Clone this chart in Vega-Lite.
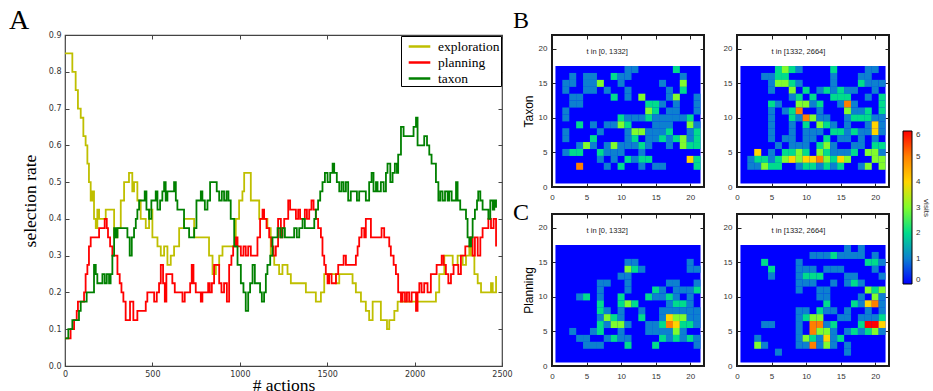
{
"$schema": "https://vega.github.io/schema/vega-lite/v6.json",
"padding": {"left": 8, "top": 6, "right": 0, "bottom": 0},
"background": "white",
"config": {"axis": {"grid": false, "domain": false, "labelFlush": false, "labelOverlap": false}, "view": {"stroke": "#222", "strokeWidth": 1.5}},
"datasets": {
"lines": [
{"s":"exploration","x":0,"y":0.85},{"s":"exploration","x":19,"y":0.85},{"s":"exploration","x":42,"y":0.8},{"s":"exploration","x":61,"y":0.75},{"s":"exploration","x":74,"y":0.7},{"s":"exploration","x":90,"y":0.675},{"s":"exploration","x":105,"y":0.625},{"s":"exploration","x":118,"y":0.6},{"s":"exploration","x":128,"y":0.55},{"s":"exploration","x":137,"y":0.5},{"s":"exploration","x":147,"y":0.45},{"s":"exploration","x":156,"y":0.475},{"s":"exploration","x":166,"y":0.4},{"s":"exploration","x":176,"y":0.375},{"s":"exploration","x":185,"y":0.425},{"s":"exploration","x":195,"y":0.4},{"s":"exploration","x":214,"y":0.4},{"s":"exploration","x":233,"y":0.425},{"s":"exploration","x":261,"y":0.425},{"s":"exploration","x":281,"y":0.35},{"s":"exploration","x":300,"y":0.375},{"s":"exploration","x":319,"y":0.45},{"s":"exploration","x":338,"y":0.5},{"s":"exploration","x":366,"y":0.525},{"s":"exploration","x":385,"y":0.475},{"s":"exploration","x":395,"y":0.5},{"s":"exploration","x":414,"y":0.45},{"s":"exploration","x":433,"y":0.4},{"s":"exploration","x":462,"y":0.375},{"s":"exploration","x":481,"y":0.425},{"s":"exploration","x":500,"y":0.35},{"s":"exploration","x":529,"y":0.325},{"s":"exploration","x":548,"y":0.3},{"s":"exploration","x":567,"y":0.325},{"s":"exploration","x":586,"y":0.275},{"s":"exploration","x":605,"y":0.3},{"s":"exploration","x":624,"y":0.325},{"s":"exploration","x":653,"y":0.375},{"s":"exploration","x":681,"y":0.4},{"s":"exploration","x":719,"y":0.4},{"s":"exploration","x":739,"y":0.35},{"s":"exploration","x":767,"y":0.35},{"s":"exploration","x":796,"y":0.35},{"s":"exploration","x":824,"y":0.3},{"s":"exploration","x":844,"y":0.25},{"s":"exploration","x":863,"y":0.275},{"s":"exploration","x":882,"y":0.3},{"s":"exploration","x":901,"y":0.325},{"s":"exploration","x":929,"y":0.325},{"s":"exploration","x":958,"y":0.325},{"s":"exploration","x":977,"y":0.4},{"s":"exploration","x":996,"y":0.45},{"s":"exploration","x":1015,"y":0.475},{"s":"exploration","x":1025,"y":0.525},{"s":"exploration","x":1048,"y":0.525},{"s":"exploration","x":1063,"y":0.45},{"s":"exploration","x":1092,"y":0.45},{"s":"exploration","x":1111,"y":0.4},{"s":"exploration","x":1139,"y":0.4},{"s":"exploration","x":1158,"y":0.375},{"s":"exploration","x":1177,"y":0.3},{"s":"exploration","x":1197,"y":0.275},{"s":"exploration","x":1225,"y":0.25},{"s":"exploration","x":1244,"y":0.275},{"s":"exploration","x":1273,"y":0.25},{"s":"exploration","x":1292,"y":0.225},{"s":"exploration","x":1321,"y":0.225},{"s":"exploration","x":1359,"y":0.225},{"s":"exploration","x":1378,"y":0.2},{"s":"exploration","x":1406,"y":0.2},{"s":"exploration","x":1435,"y":0.175},{"s":"exploration","x":1464,"y":0.2},{"s":"exploration","x":1483,"y":0.25},{"s":"exploration","x":1502,"y":0.25},{"s":"exploration","x":1531,"y":0.25},{"s":"exploration","x":1550,"y":0.225},{"s":"exploration","x":1569,"y":0.25},{"s":"exploration","x":1597,"y":0.25},{"s":"exploration","x":1626,"y":0.25},{"s":"exploration","x":1645,"y":0.225},{"s":"exploration","x":1664,"y":0.2},{"s":"exploration","x":1693,"y":0.175},{"s":"exploration","x":1721,"y":0.15},{"s":"exploration","x":1740,"y":0.125},{"s":"exploration","x":1760,"y":0.175},{"s":"exploration","x":1788,"y":0.175},{"s":"exploration","x":1807,"y":0.125},{"s":"exploration","x":1826,"y":0.125},{"s":"exploration","x":1842,"y":0.1},{"s":"exploration","x":1855,"y":0.125},{"s":"exploration","x":1884,"y":0.15},{"s":"exploration","x":1903,"y":0.175},{"s":"exploration","x":1941,"y":0.175},{"s":"exploration","x":1979,"y":0.175},{"s":"exploration","x":2036,"y":0.175},{"s":"exploration","x":2113,"y":0.175},{"s":"exploration","x":2122,"y":0.2},{"s":"exploration","x":2141,"y":0.25},{"s":"exploration","x":2170,"y":0.3},{"s":"exploration","x":2198,"y":0.3},{"s":"exploration","x":2218,"y":0.275},{"s":"exploration","x":2246,"y":0.3},{"s":"exploration","x":2275,"y":0.275},{"s":"exploration","x":2294,"y":0.3},{"s":"exploration","x":2313,"y":0.325},{"s":"exploration","x":2323,"y":0.3},{"s":"exploration","x":2342,"y":0.25},{"s":"exploration","x":2361,"y":0.225},{"s":"exploration","x":2380,"y":0.2},{"s":"exploration","x":2418,"y":0.2},{"s":"exploration","x":2437,"y":0.225},{"s":"exploration","x":2447,"y":0.2},{"s":"exploration","x":2456,"y":0.2},{"s":"exploration","x":2466,"y":0.245},
{"s":"planning","x":0,"y":0.075},{"s":"planning","x":23,"y":0.075},{"s":"planning","x":32,"y":0.1},{"s":"planning","x":52,"y":0.125},{"s":"planning","x":67,"y":0.15},{"s":"planning","x":74,"y":0.175},{"s":"planning","x":99,"y":0.175},{"s":"planning","x":109,"y":0.2},{"s":"planning","x":118,"y":0.25},{"s":"planning","x":128,"y":0.275},{"s":"planning","x":137,"y":0.325},{"s":"planning","x":147,"y":0.35},{"s":"planning","x":176,"y":0.35},{"s":"planning","x":195,"y":0.375},{"s":"planning","x":214,"y":0.375},{"s":"planning","x":227,"y":0.4},{"s":"planning","x":239,"y":0.375},{"s":"planning","x":246,"y":0.35},{"s":"planning","x":258,"y":0.325},{"s":"planning","x":271,"y":0.3},{"s":"planning","x":290,"y":0.3},{"s":"planning","x":300,"y":0.25},{"s":"planning","x":313,"y":0.225},{"s":"planning","x":323,"y":0.2},{"s":"planning","x":334,"y":0.175},{"s":"planning","x":347,"y":0.125},{"s":"planning","x":361,"y":0.125},{"s":"planning","x":372,"y":0.175},{"s":"planning","x":382,"y":0.175},{"s":"planning","x":391,"y":0.125},{"s":"planning","x":403,"y":0.125},{"s":"planning","x":414,"y":0.15},{"s":"planning","x":452,"y":0.15},{"s":"planning","x":462,"y":0.175},{"s":"planning","x":471,"y":0.2},{"s":"planning","x":500,"y":0.2},{"s":"planning","x":510,"y":0.175},{"s":"planning","x":525,"y":0.2},{"s":"planning","x":538,"y":0.225},{"s":"planning","x":548,"y":0.275},{"s":"planning","x":561,"y":0.225},{"s":"planning","x":571,"y":0.175},{"s":"planning","x":580,"y":0.25},{"s":"planning","x":599,"y":0.25},{"s":"planning","x":614,"y":0.225},{"s":"planning","x":628,"y":0.2},{"s":"planning","x":653,"y":0.2},{"s":"planning","x":672,"y":0.175},{"s":"planning","x":685,"y":0.2},{"s":"planning","x":700,"y":0.2},{"s":"planning","x":716,"y":0.225},{"s":"planning","x":725,"y":0.275},{"s":"planning","x":735,"y":0.225},{"s":"planning","x":748,"y":0.2},{"s":"planning","x":767,"y":0.2},{"s":"planning","x":777,"y":0.175},{"s":"planning","x":786,"y":0.2},{"s":"planning","x":805,"y":0.2},{"s":"planning","x":819,"y":0.225},{"s":"planning","x":828,"y":0.2},{"s":"planning","x":840,"y":0.225},{"s":"planning","x":853,"y":0.275},{"s":"planning","x":868,"y":0.275},{"s":"planning","x":882,"y":0.225},{"s":"planning","x":895,"y":0.2},{"s":"planning","x":910,"y":0.225},{"s":"planning","x":926,"y":0.175},{"s":"planning","x":939,"y":0.275},{"s":"planning","x":952,"y":0.3},{"s":"planning","x":962,"y":0.325},{"s":"planning","x":977,"y":0.35},{"s":"planning","x":987,"y":0.325},{"s":"planning","x":1006,"y":0.3},{"s":"planning","x":1021,"y":0.325},{"s":"planning","x":1034,"y":0.3},{"s":"planning","x":1048,"y":0.325},{"s":"planning","x":1063,"y":0.3},{"s":"planning","x":1086,"y":0.3},{"s":"planning","x":1101,"y":0.35},{"s":"planning","x":1116,"y":0.4},{"s":"planning","x":1130,"y":0.425},{"s":"planning","x":1139,"y":0.4},{"s":"planning","x":1153,"y":0.375},{"s":"planning","x":1168,"y":0.35},{"s":"planning","x":1181,"y":0.325},{"s":"planning","x":1193,"y":0.3},{"s":"planning","x":1206,"y":0.325},{"s":"planning","x":1219,"y":0.4},{"s":"planning","x":1235,"y":0.35},{"s":"planning","x":1244,"y":0.375},{"s":"planning","x":1254,"y":0.4},{"s":"planning","x":1269,"y":0.4},{"s":"planning","x":1277,"y":0.45},{"s":"planning","x":1288,"y":0.425},{"s":"planning","x":1311,"y":0.425},{"s":"planning","x":1321,"y":0.4},{"s":"planning","x":1334,"y":0.425},{"s":"planning","x":1345,"y":0.4},{"s":"planning","x":1359,"y":0.4},{"s":"planning","x":1372,"y":0.425},{"s":"planning","x":1384,"y":0.4},{"s":"planning","x":1397,"y":0.425},{"s":"planning","x":1410,"y":0.45},{"s":"planning","x":1422,"y":0.425},{"s":"planning","x":1435,"y":0.4},{"s":"planning","x":1448,"y":0.375},{"s":"planning","x":1464,"y":0.35},{"s":"planning","x":1473,"y":0.3},{"s":"planning","x":1483,"y":0.275},{"s":"planning","x":1492,"y":0.25},{"s":"planning","x":1502,"y":0.225},{"s":"planning","x":1511,"y":0.25},{"s":"planning","x":1525,"y":0.225},{"s":"planning","x":1540,"y":0.225},{"s":"planning","x":1550,"y":0.25},{"s":"planning","x":1563,"y":0.275},{"s":"planning","x":1578,"y":0.275},{"s":"planning","x":1594,"y":0.3},{"s":"planning","x":1607,"y":0.275},{"s":"planning","x":1655,"y":0.275},{"s":"planning","x":1664,"y":0.3},{"s":"planning","x":1674,"y":0.325},{"s":"planning","x":1683,"y":0.35},{"s":"planning","x":1697,"y":0.375},{"s":"planning","x":1712,"y":0.35},{"s":"planning","x":1721,"y":0.4},{"s":"planning","x":1740,"y":0.4},{"s":"planning","x":1750,"y":0.35},{"s":"planning","x":1798,"y":0.35},{"s":"planning","x":1811,"y":0.375},{"s":"planning","x":1826,"y":0.35},{"s":"planning","x":1845,"y":0.35},{"s":"planning","x":1855,"y":0.325},{"s":"planning","x":1864,"y":0.3},{"s":"planning","x":1880,"y":0.275},{"s":"planning","x":1893,"y":0.25},{"s":"planning","x":1906,"y":0.2},{"s":"planning","x":1922,"y":0.175},{"s":"planning","x":1931,"y":0.2},{"s":"planning","x":1945,"y":0.175},{"s":"planning","x":1956,"y":0.2},{"s":"planning","x":1969,"y":0.175},{"s":"planning","x":1983,"y":0.2},{"s":"planning","x":2008,"y":0.15},{"s":"planning","x":2017,"y":0.2},{"s":"planning","x":2027,"y":0.225},{"s":"planning","x":2040,"y":0.2},{"s":"planning","x":2055,"y":0.225},{"s":"planning","x":2074,"y":0.2},{"s":"planning","x":2093,"y":0.25},{"s":"planning","x":2126,"y":0.275},{"s":"planning","x":2155,"y":0.3},{"s":"planning","x":2166,"y":0.275},{"s":"planning","x":2179,"y":0.25},{"s":"planning","x":2193,"y":0.225},{"s":"planning","x":2208,"y":0.25},{"s":"planning","x":2223,"y":0.275},{"s":"planning","x":2242,"y":0.275},{"s":"planning","x":2250,"y":0.25},{"s":"planning","x":2265,"y":0.3},{"s":"planning","x":2290,"y":0.325},{"s":"planning","x":2319,"y":0.35},{"s":"planning","x":2332,"y":0.3},{"s":"planning","x":2345,"y":0.35},{"s":"planning","x":2361,"y":0.3},{"s":"planning","x":2376,"y":0.35},{"s":"planning","x":2389,"y":0.375},{"s":"planning","x":2422,"y":0.4},{"s":"planning","x":2437,"y":0.375},{"s":"planning","x":2452,"y":0.4},{"s":"planning","x":2466,"y":0.325},
{"s":"taxon","x":0,"y":0.075},{"s":"taxon","x":19,"y":0.1},{"s":"taxon","x":42,"y":0.125},{"s":"taxon","x":61,"y":0.125},{"s":"taxon","x":80,"y":0.15},{"s":"taxon","x":90,"y":0.175},{"s":"taxon","x":109,"y":0.175},{"s":"taxon","x":124,"y":0.2},{"s":"taxon","x":156,"y":0.2},{"s":"taxon","x":166,"y":0.275},{"s":"taxon","x":176,"y":0.25},{"s":"taxon","x":185,"y":0.225},{"s":"taxon","x":204,"y":0.225},{"s":"taxon","x":214,"y":0.25},{"s":"taxon","x":227,"y":0.225},{"s":"taxon","x":239,"y":0.25},{"s":"taxon","x":252,"y":0.225},{"s":"taxon","x":261,"y":0.25},{"s":"taxon","x":271,"y":0.3},{"s":"taxon","x":281,"y":0.375},{"s":"taxon","x":290,"y":0.35},{"s":"taxon","x":300,"y":0.375},{"s":"taxon","x":342,"y":0.375},{"s":"taxon","x":357,"y":0.35},{"s":"taxon","x":370,"y":0.3},{"s":"taxon","x":382,"y":0.35},{"s":"taxon","x":395,"y":0.375},{"s":"taxon","x":405,"y":0.4},{"s":"taxon","x":414,"y":0.425},{"s":"taxon","x":424,"y":0.45},{"s":"taxon","x":443,"y":0.45},{"s":"taxon","x":456,"y":0.475},{"s":"taxon","x":466,"y":0.425},{"s":"taxon","x":481,"y":0.4},{"s":"taxon","x":494,"y":0.45},{"s":"taxon","x":519,"y":0.475},{"s":"taxon","x":529,"y":0.425},{"s":"taxon","x":544,"y":0.45},{"s":"taxon","x":557,"y":0.475},{"s":"taxon","x":567,"y":0.5},{"s":"taxon","x":576,"y":0.45},{"s":"taxon","x":586,"y":0.475},{"s":"taxon","x":614,"y":0.475},{"s":"taxon","x":624,"y":0.5},{"s":"taxon","x":634,"y":0.45},{"s":"taxon","x":643,"y":0.425},{"s":"taxon","x":672,"y":0.425},{"s":"taxon","x":681,"y":0.375},{"s":"taxon","x":710,"y":0.35},{"s":"taxon","x":729,"y":0.35},{"s":"taxon","x":739,"y":0.375},{"s":"taxon","x":752,"y":0.45},{"s":"taxon","x":767,"y":0.45},{"s":"taxon","x":777,"y":0.475},{"s":"taxon","x":786,"y":0.45},{"s":"taxon","x":800,"y":0.425},{"s":"taxon","x":815,"y":0.45},{"s":"taxon","x":830,"y":0.5},{"s":"taxon","x":853,"y":0.5},{"s":"taxon","x":868,"y":0.475},{"s":"taxon","x":882,"y":0.45},{"s":"taxon","x":897,"y":0.475},{"s":"taxon","x":910,"y":0.45},{"s":"taxon","x":924,"y":0.475},{"s":"taxon","x":935,"y":0.45},{"s":"taxon","x":948,"y":0.4},{"s":"taxon","x":968,"y":0.325},{"s":"taxon","x":987,"y":0.275},{"s":"taxon","x":1006,"y":0.225},{"s":"taxon","x":1021,"y":0.2},{"s":"taxon","x":1034,"y":0.15},{"s":"taxon","x":1048,"y":0.2},{"s":"taxon","x":1059,"y":0.225},{"s":"taxon","x":1073,"y":0.275},{"s":"taxon","x":1086,"y":0.225},{"s":"taxon","x":1101,"y":0.225},{"s":"taxon","x":1116,"y":0.2},{"s":"taxon","x":1126,"y":0.175},{"s":"taxon","x":1139,"y":0.2},{"s":"taxon","x":1149,"y":0.25},{"s":"taxon","x":1158,"y":0.275},{"s":"taxon","x":1174,"y":0.3},{"s":"taxon","x":1187,"y":0.35},{"s":"taxon","x":1200,"y":0.35},{"s":"taxon","x":1216,"y":0.375},{"s":"taxon","x":1231,"y":0.35},{"s":"taxon","x":1244,"y":0.375},{"s":"taxon","x":1258,"y":0.35},{"s":"taxon","x":1292,"y":0.35},{"s":"taxon","x":1311,"y":0.375},{"s":"taxon","x":1326,"y":0.35},{"s":"taxon","x":1340,"y":0.375},{"s":"taxon","x":1359,"y":0.4},{"s":"taxon","x":1372,"y":0.375},{"s":"taxon","x":1416,"y":0.375},{"s":"taxon","x":1426,"y":0.4},{"s":"taxon","x":1435,"y":0.425},{"s":"taxon","x":1448,"y":0.45},{"s":"taxon","x":1460,"y":0.475},{"s":"taxon","x":1473,"y":0.5},{"s":"taxon","x":1487,"y":0.525},{"s":"taxon","x":1502,"y":0.5},{"s":"taxon","x":1517,"y":0.525},{"s":"taxon","x":1531,"y":0.55},{"s":"taxon","x":1540,"y":0.525},{"s":"taxon","x":1555,"y":0.5},{"s":"taxon","x":1569,"y":0.475},{"s":"taxon","x":1582,"y":0.5},{"s":"taxon","x":1594,"y":0.475},{"s":"taxon","x":1607,"y":0.5},{"s":"taxon","x":1620,"y":0.45},{"s":"taxon","x":1635,"y":0.475},{"s":"taxon","x":1655,"y":0.475},{"s":"taxon","x":1670,"y":0.45},{"s":"taxon","x":1683,"y":0.475},{"s":"taxon","x":1702,"y":0.475},{"s":"taxon","x":1721,"y":0.45},{"s":"taxon","x":1740,"y":0.5},{"s":"taxon","x":1754,"y":0.525},{"s":"taxon","x":1765,"y":0.475},{"s":"taxon","x":1779,"y":0.5},{"s":"taxon","x":1788,"y":0.475},{"s":"taxon","x":1807,"y":0.5},{"s":"taxon","x":1823,"y":0.475},{"s":"taxon","x":1836,"y":0.525},{"s":"taxon","x":1845,"y":0.55},{"s":"taxon","x":1861,"y":0.5},{"s":"taxon","x":1874,"y":0.525},{"s":"taxon","x":1887,"y":0.55},{"s":"taxon","x":1899,"y":0.525},{"s":"taxon","x":1906,"y":0.575},{"s":"taxon","x":1922,"y":0.65},{"s":"taxon","x":1937,"y":0.625},{"s":"taxon","x":1979,"y":0.625},{"s":"taxon","x":1994,"y":0.65},{"s":"taxon","x":2008,"y":0.675},{"s":"taxon","x":2017,"y":0.6},{"s":"taxon","x":2046,"y":0.6},{"s":"taxon","x":2055,"y":0.625},{"s":"taxon","x":2071,"y":0.6},{"s":"taxon","x":2084,"y":0.575},{"s":"taxon","x":2097,"y":0.55},{"s":"taxon","x":2113,"y":0.55},{"s":"taxon","x":2122,"y":0.5},{"s":"taxon","x":2136,"y":0.45},{"s":"taxon","x":2147,"y":0.475},{"s":"taxon","x":2160,"y":0.45},{"s":"taxon","x":2174,"y":0.475},{"s":"taxon","x":2189,"y":0.45},{"s":"taxon","x":2198,"y":0.475},{"s":"taxon","x":2212,"y":0.45},{"s":"taxon","x":2237,"y":0.5},{"s":"taxon","x":2246,"y":0.45},{"s":"taxon","x":2261,"y":0.425},{"s":"taxon","x":2284,"y":0.425},{"s":"taxon","x":2294,"y":0.4},{"s":"taxon","x":2303,"y":0.35},{"s":"taxon","x":2313,"y":0.325},{"s":"taxon","x":2323,"y":0.35},{"s":"taxon","x":2332,"y":0.4},{"s":"taxon","x":2345,"y":0.425},{"s":"taxon","x":2357,"y":0.45},{"s":"taxon","x":2364,"y":0.475},{"s":"taxon","x":2376,"y":0.45},{"s":"taxon","x":2389,"y":0.425},{"s":"taxon","x":2408,"y":0.425},{"s":"taxon","x":2422,"y":0.4},{"s":"taxon","x":2433,"y":0.45},{"s":"taxon","x":2447,"y":0.425},{"s":"taxon","x":2456,"y":0.45},{"s":"taxon","x":2466,"y":0.43}
],
"grids": [
{"p":"B1","x0":0.5,"x1":21.5,"y0":0.5,"y1":17.5,"v":0},
{"p":"B2","x0":0.5,"x1":21.5,"y0":0.5,"y1":17.5,"v":0},
{"p":"C1","x0":0.5,"x1":21.5,"y0":0.5,"y1":17.5,"v":0},
{"p":"C2","x0":0.5,"x1":21.5,"y0":0.5,"y1":17.5,"v":0}
],
"tlabels": [
{"p":"B1","label":"t in [0, 1332]","x":5,"y":19.5},
{"p":"B2","label":"t in [1332, 2664]","x":5,"y":19.5},
{"p":"C1","label":"t in [0, 1332]","x":5,"y":19.5},
{"p":"C2","label":"t in [1332, 2664]","x":5,"y":19.5}
],
"cells": [
{"p":"B1","x":11,"y":17,"v":1},{"p":"B1","x":12,"y":17,"v":1},{"p":"B1","x":18,"y":17,"v":2},
{"p":"B1","x":3,"y":16,"v":1},{"p":"B1","x":5,"y":16,"v":1},{"p":"B1","x":6,"y":16,"v":1},{"p":"B1","x":9,"y":16,"v":2},{"p":"B1","x":10,"y":16,"v":1},{"p":"B1","x":11,"y":16,"v":1},{"p":"B1","x":19,"y":16,"v":1},
{"p":"B1","x":2,"y":15,"v":1},{"p":"B1","x":3,"y":15,"v":1},{"p":"B1","x":5,"y":15,"v":1},{"p":"B1","x":6,"y":15,"v":1},{"p":"B1","x":7,"y":15,"v":3},{"p":"B1","x":10,"y":15,"v":1},{"p":"B1","x":16,"y":15,"v":1},{"p":"B1","x":19,"y":15,"v":3},
{"p":"B1","x":2,"y":14,"v":1},{"p":"B1","x":5,"y":14,"v":1},{"p":"B1","x":6,"y":14,"v":1},{"p":"B1","x":8,"y":14,"v":1},{"p":"B1","x":11,"y":14,"v":1},{"p":"B1","x":17,"y":14,"v":1},{"p":"B1","x":19,"y":14,"v":2},
{"p":"B1","x":3,"y":13,"v":1},{"p":"B1","x":4,"y":13,"v":1},{"p":"B1","x":9,"y":13,"v":2},{"p":"B1","x":11,"y":13,"v":1},{"p":"B1","x":13,"y":13,"v":3},{"p":"B1","x":17,"y":13,"v":1},{"p":"B1","x":18,"y":13,"v":3},{"p":"B1","x":21,"y":13,"v":1},
{"p":"B1","x":3,"y":12,"v":1},{"p":"B1","x":4,"y":12,"v":1},{"p":"B1","x":14,"y":12,"v":2},{"p":"B1","x":15,"y":12,"v":2},{"p":"B1","x":16,"y":12,"v":1},{"p":"B1","x":18,"y":12,"v":1},{"p":"B1","x":21,"y":12,"v":1},
{"p":"B1","x":2,"y":11,"v":1},{"p":"B1","x":14,"y":11,"v":3},{"p":"B1","x":15,"y":11,"v":2},{"p":"B1","x":17,"y":11,"v":1},{"p":"B1","x":18,"y":11,"v":1},{"p":"B1","x":21,"y":11,"v":1},
{"p":"B1","x":2,"y":10,"v":1},{"p":"B1","x":10,"y":10,"v":2},{"p":"B1","x":11,"y":10,"v":1},{"p":"B1","x":12,"y":10,"v":1},{"p":"B1","x":13,"y":10,"v":1},{"p":"B1","x":14,"y":10,"v":2},{"p":"B1","x":15,"y":10,"v":1},{"p":"B1","x":16,"y":10,"v":1},{"p":"B1","x":17,"y":10,"v":1},{"p":"B1","x":18,"y":10,"v":1},{"p":"B1","x":19,"y":10,"v":1},{"p":"B1","x":20,"y":10,"v":2},
{"p":"B1","x":4,"y":9,"v":2},{"p":"B1","x":6,"y":9,"v":1},{"p":"B1","x":8,"y":9,"v":1},{"p":"B1","x":9,"y":9,"v":1},{"p":"B1","x":10,"y":9,"v":3},{"p":"B1","x":11,"y":9,"v":2},{"p":"B1","x":15,"y":9,"v":1},{"p":"B1","x":16,"y":9,"v":1},{"p":"B1","x":17,"y":9,"v":1},{"p":"B1","x":20,"y":9,"v":3},{"p":"B1","x":21,"y":9,"v":1},
{"p":"B1","x":2,"y":8,"v":1},{"p":"B1","x":7,"y":8,"v":1},{"p":"B1","x":11,"y":8,"v":1},{"p":"B1","x":12,"y":8,"v":3},{"p":"B1","x":13,"y":8,"v":3},{"p":"B1","x":14,"y":8,"v":1},{"p":"B1","x":15,"y":8,"v":1},{"p":"B1","x":16,"y":8,"v":1},{"p":"B1","x":17,"y":8,"v":2},{"p":"B1","x":20,"y":8,"v":1},{"p":"B1","x":21,"y":8,"v":2},
{"p":"B1","x":2,"y":7,"v":1},{"p":"B1","x":6,"y":7,"v":2},{"p":"B1","x":11,"y":7,"v":1},{"p":"B1","x":12,"y":7,"v":2},{"p":"B1","x":14,"y":7,"v":1},{"p":"B1","x":15,"y":7,"v":1},{"p":"B1","x":16,"y":7,"v":2},{"p":"B1","x":17,"y":7,"v":1},{"p":"B1","x":18,"y":7,"v":2},{"p":"B1","x":19,"y":7,"v":3},{"p":"B1","x":20,"y":7,"v":1},{"p":"B1","x":21,"y":7,"v":2},
{"p":"B1","x":4,"y":6,"v":1},{"p":"B1","x":5,"y":6,"v":3},{"p":"B1","x":6,"y":6,"v":1},{"p":"B1","x":8,"y":6,"v":1},{"p":"B1","x":9,"y":6,"v":3},{"p":"B1","x":10,"y":6,"v":1},{"p":"B1","x":11,"y":6,"v":1},{"p":"B1","x":12,"y":6,"v":1},{"p":"B1","x":13,"y":6,"v":2},{"p":"B1","x":14,"y":6,"v":1},{"p":"B1","x":17,"y":6,"v":1},{"p":"B1","x":19,"y":6,"v":3},{"p":"B1","x":20,"y":6,"v":2},{"p":"B1","x":21,"y":6,"v":2},
{"p":"B1","x":2,"y":5,"v":1},{"p":"B1","x":3,"y":5,"v":2},{"p":"B1","x":4,"y":5,"v":2},{"p":"B1","x":7,"y":5,"v":2},{"p":"B1","x":8,"y":5,"v":1},{"p":"B1","x":9,"y":5,"v":1},{"p":"B1","x":10,"y":5,"v":1},{"p":"B1","x":13,"y":5,"v":1},
{"p":"B1","x":7,"y":4,"v":1},{"p":"B1","x":9,"y":4,"v":1},{"p":"B1","x":11,"y":4,"v":2},{"p":"B1","x":12,"y":4,"v":1},{"p":"B1","x":13,"y":4,"v":2},{"p":"B1","x":14,"y":4,"v":2},{"p":"B1","x":20,"y":4,"v":4},{"p":"B1","x":21,"y":4,"v":2},
{"p":"B1","x":4,"y":3,"v":5},{"p":"B1","x":8,"y":3,"v":1},{"p":"B1","x":10,"y":3,"v":2},{"p":"B1","x":13,"y":3,"v":1},{"p":"B1","x":15,"y":3,"v":1},{"p":"B1","x":16,"y":3,"v":1},{"p":"B1","x":21,"y":3,"v":2},
{"p":"B2","x":6,"y":17,"v":2},{"p":"B2","x":7,"y":17,"v":3},{"p":"B2","x":8,"y":17,"v":2},{"p":"B2","x":9,"y":17,"v":1},{"p":"B2","x":14,"y":17,"v":2},{"p":"B2","x":19,"y":17,"v":1},{"p":"B2","x":20,"y":17,"v":1},
{"p":"B2","x":4,"y":16,"v":1},{"p":"B2","x":5,"y":16,"v":1},{"p":"B2","x":6,"y":16,"v":2},{"p":"B2","x":7,"y":16,"v":2},{"p":"B2","x":14,"y":16,"v":1},{"p":"B2","x":18,"y":16,"v":1},{"p":"B2","x":19,"y":16,"v":1},
{"p":"B2","x":5,"y":15,"v":1},{"p":"B2","x":6,"y":15,"v":3},{"p":"B2","x":7,"y":15,"v":3},{"p":"B2","x":8,"y":15,"v":2},{"p":"B2","x":9,"y":15,"v":1},{"p":"B2","x":14,"y":15,"v":1},{"p":"B2","x":18,"y":15,"v":2},{"p":"B2","x":19,"y":15,"v":1},{"p":"B2","x":20,"y":15,"v":1},{"p":"B2","x":21,"y":15,"v":1},
{"p":"B2","x":5,"y":14,"v":1},{"p":"B2","x":8,"y":14,"v":3},{"p":"B2","x":10,"y":14,"v":2},{"p":"B2","x":12,"y":14,"v":1},{"p":"B2","x":13,"y":14,"v":2},{"p":"B2","x":14,"y":14,"v":1},{"p":"B2","x":15,"y":14,"v":2},{"p":"B2","x":16,"y":14,"v":1},{"p":"B2","x":17,"y":14,"v":1},{"p":"B2","x":20,"y":14,"v":1},
{"p":"B2","x":8,"y":13,"v":1},{"p":"B2","x":9,"y":13,"v":2},{"p":"B2","x":11,"y":13,"v":2},{"p":"B2","x":14,"y":13,"v":2},{"p":"B2","x":15,"y":13,"v":2},{"p":"B2","x":16,"y":13,"v":2},{"p":"B2","x":19,"y":13,"v":1},{"p":"B2","x":21,"y":13,"v":2},
{"p":"B2","x":5,"y":12,"v":2},{"p":"B2","x":6,"y":12,"v":1},{"p":"B2","x":9,"y":12,"v":3},{"p":"B2","x":10,"y":12,"v":3},{"p":"B2","x":11,"y":12,"v":1},{"p":"B2","x":12,"y":12,"v":2},{"p":"B2","x":15,"y":12,"v":1},{"p":"B2","x":16,"y":12,"v":5},{"p":"B2","x":17,"y":12,"v":1},{"p":"B2","x":21,"y":12,"v":2},
{"p":"B2","x":5,"y":11,"v":1},{"p":"B2","x":7,"y":11,"v":1},{"p":"B2","x":8,"y":11,"v":2},{"p":"B2","x":9,"y":11,"v":5},{"p":"B2","x":12,"y":11,"v":1},{"p":"B2","x":16,"y":11,"v":3},{"p":"B2","x":17,"y":11,"v":1},{"p":"B2","x":18,"y":11,"v":1},{"p":"B2","x":19,"y":11,"v":2},{"p":"B2","x":21,"y":11,"v":2},
{"p":"B2","x":5,"y":10,"v":1},{"p":"B2","x":8,"y":10,"v":2},{"p":"B2","x":9,"y":10,"v":1},{"p":"B2","x":10,"y":10,"v":5},{"p":"B2","x":11,"y":10,"v":3},{"p":"B2","x":12,"y":10,"v":1},{"p":"B2","x":13,"y":10,"v":1},{"p":"B2","x":16,"y":10,"v":1},{"p":"B2","x":17,"y":10,"v":2},{"p":"B2","x":18,"y":10,"v":2},{"p":"B2","x":19,"y":10,"v":2},{"p":"B2","x":20,"y":10,"v":1},{"p":"B2","x":21,"y":10,"v":1},
{"p":"B2","x":5,"y":9,"v":1},{"p":"B2","x":8,"y":9,"v":1},{"p":"B2","x":10,"y":9,"v":2},{"p":"B2","x":12,"y":9,"v":3},{"p":"B2","x":13,"y":9,"v":2},{"p":"B2","x":14,"y":9,"v":1},{"p":"B2","x":16,"y":9,"v":1},{"p":"B2","x":19,"y":9,"v":1},{"p":"B2","x":20,"y":9,"v":4},{"p":"B2","x":21,"y":9,"v":1},
{"p":"B2","x":5,"y":8,"v":1},{"p":"B2","x":8,"y":8,"v":1},{"p":"B2","x":10,"y":8,"v":1},{"p":"B2","x":11,"y":8,"v":1},{"p":"B2","x":12,"y":8,"v":1},{"p":"B2","x":14,"y":8,"v":2},{"p":"B2","x":15,"y":8,"v":2},{"p":"B2","x":16,"y":8,"v":1},{"p":"B2","x":17,"y":8,"v":2},{"p":"B2","x":18,"y":8,"v":1},{"p":"B2","x":19,"y":8,"v":1},{"p":"B2","x":20,"y":8,"v":4},{"p":"B2","x":21,"y":8,"v":1},
{"p":"B2","x":5,"y":7,"v":1},{"p":"B2","x":7,"y":7,"v":1},{"p":"B2","x":8,"y":7,"v":1},{"p":"B2","x":10,"y":7,"v":1},{"p":"B2","x":11,"y":7,"v":1},{"p":"B2","x":13,"y":7,"v":2},{"p":"B2","x":15,"y":7,"v":1},{"p":"B2","x":16,"y":7,"v":1},{"p":"B2","x":18,"y":7,"v":1},{"p":"B2","x":20,"y":7,"v":1},
{"p":"B2","x":6,"y":6,"v":1},{"p":"B2","x":8,"y":6,"v":1},{"p":"B2","x":9,"y":6,"v":1},{"p":"B2","x":10,"y":6,"v":1},{"p":"B2","x":12,"y":6,"v":2},{"p":"B2","x":13,"y":6,"v":3},{"p":"B2","x":14,"y":6,"v":1},{"p":"B2","x":17,"y":6,"v":1},{"p":"B2","x":18,"y":6,"v":1},{"p":"B2","x":20,"y":6,"v":2},{"p":"B2","x":21,"y":6,"v":2},
{"p":"B2","x":3,"y":5,"v":4},{"p":"B2","x":5,"y":5,"v":1},{"p":"B2","x":7,"y":5,"v":2},{"p":"B2","x":8,"y":5,"v":2},{"p":"B2","x":9,"y":5,"v":3},{"p":"B2","x":10,"y":5,"v":2},{"p":"B2","x":12,"y":5,"v":3},{"p":"B2","x":13,"y":5,"v":2},{"p":"B2","x":14,"y":5,"v":1},{"p":"B2","x":15,"y":5,"v":1},{"p":"B2","x":16,"y":5,"v":1},{"p":"B2","x":17,"y":5,"v":2},{"p":"B2","x":19,"y":5,"v":3},{"p":"B2","x":20,"y":5,"v":3},{"p":"B2","x":21,"y":5,"v":1},
{"p":"B2","x":2,"y":4,"v":1},{"p":"B2","x":3,"y":4,"v":2},{"p":"B2","x":4,"y":4,"v":2},{"p":"B2","x":5,"y":4,"v":1},{"p":"B2","x":6,"y":4,"v":2},{"p":"B2","x":7,"y":4,"v":3},{"p":"B2","x":8,"y":4,"v":4},{"p":"B2","x":9,"y":4,"v":3},{"p":"B2","x":10,"y":4,"v":4},{"p":"B2","x":11,"y":4,"v":4},{"p":"B2","x":12,"y":4,"v":5},{"p":"B2","x":13,"y":4,"v":3},{"p":"B2","x":14,"y":4,"v":2},{"p":"B2","x":15,"y":4,"v":4},{"p":"B2","x":16,"y":4,"v":3},{"p":"B2","x":20,"y":4,"v":3},{"p":"B2","x":21,"y":4,"v":3},
{"p":"B2","x":2,"y":3,"v":1},{"p":"B2","x":3,"y":3,"v":1},{"p":"B2","x":4,"y":3,"v":3},{"p":"B2","x":5,"y":3,"v":2},{"p":"B2","x":6,"y":3,"v":2},{"p":"B2","x":9,"y":3,"v":1},{"p":"B2","x":10,"y":3,"v":2},{"p":"B2","x":11,"y":3,"v":2},{"p":"B2","x":12,"y":3,"v":1},{"p":"B2","x":13,"y":3,"v":2},{"p":"B2","x":14,"y":3,"v":1},{"p":"B2","x":15,"y":3,"v":2},{"p":"B2","x":18,"y":3,"v":1},{"p":"B2","x":19,"y":3,"v":3},{"p":"B2","x":21,"y":3,"v":3},
{"p":"C1","x":11,"y":15,"v":1},{"p":"C1","x":12,"y":15,"v":1},{"p":"C1","x":20,"y":15,"v":1},
{"p":"C1","x":11,"y":14,"v":3},{"p":"C1","x":12,"y":14,"v":2},{"p":"C1","x":13,"y":14,"v":1},{"p":"C1","x":20,"y":14,"v":1},{"p":"C1","x":21,"y":14,"v":1},
{"p":"C1","x":10,"y":13,"v":1},{"p":"C1","x":11,"y":13,"v":1},
{"p":"C1","x":7,"y":12,"v":1},{"p":"C1","x":8,"y":12,"v":1},{"p":"C1","x":11,"y":12,"v":1},{"p":"C1","x":17,"y":12,"v":1},{"p":"C1","x":18,"y":12,"v":1},{"p":"C1","x":21,"y":12,"v":1},
{"p":"C1","x":7,"y":11,"v":1},{"p":"C1","x":11,"y":11,"v":1},{"p":"C1","x":15,"y":11,"v":2},{"p":"C1","x":16,"y":11,"v":1},{"p":"C1","x":18,"y":11,"v":1},{"p":"C1","x":19,"y":11,"v":1},{"p":"C1","x":20,"y":11,"v":1},{"p":"C1","x":21,"y":11,"v":2},
{"p":"C1","x":4,"y":10,"v":1},{"p":"C1","x":5,"y":10,"v":2},{"p":"C1","x":7,"y":10,"v":1},{"p":"C1","x":10,"y":10,"v":2},{"p":"C1","x":14,"y":10,"v":2},{"p":"C1","x":15,"y":10,"v":1},{"p":"C1","x":16,"y":10,"v":1},{"p":"C1","x":17,"y":10,"v":2},{"p":"C1","x":18,"y":10,"v":1},{"p":"C1","x":20,"y":10,"v":1},
{"p":"C1","x":7,"y":9,"v":2},{"p":"C1","x":10,"y":9,"v":2},{"p":"C1","x":11,"y":9,"v":3},{"p":"C1","x":12,"y":9,"v":2},{"p":"C1","x":17,"y":9,"v":1},{"p":"C1","x":18,"y":9,"v":2},{"p":"C1","x":19,"y":9,"v":2},{"p":"C1","x":20,"y":9,"v":1},
{"p":"C1","x":7,"y":8,"v":2},{"p":"C1","x":8,"y":8,"v":1},{"p":"C1","x":10,"y":8,"v":1},{"p":"C1","x":13,"y":8,"v":1},{"p":"C1","x":16,"y":8,"v":1},{"p":"C1","x":17,"y":8,"v":1},{"p":"C1","x":18,"y":8,"v":1},{"p":"C1","x":19,"y":8,"v":1},{"p":"C1","x":20,"y":8,"v":1},{"p":"C1","x":21,"y":8,"v":1},
{"p":"C1","x":7,"y":7,"v":1},{"p":"C1","x":8,"y":7,"v":3},{"p":"C1","x":9,"y":7,"v":2},{"p":"C1","x":10,"y":7,"v":1},{"p":"C1","x":13,"y":7,"v":2},{"p":"C1","x":16,"y":7,"v":1},{"p":"C1","x":17,"y":7,"v":4},{"p":"C1","x":18,"y":7,"v":3},{"p":"C1","x":19,"y":7,"v":3},{"p":"C1","x":20,"y":7,"v":1},{"p":"C1","x":21,"y":7,"v":1},
{"p":"C1","x":7,"y":6,"v":2},{"p":"C1","x":8,"y":6,"v":1},{"p":"C1","x":9,"y":6,"v":3},{"p":"C1","x":10,"y":6,"v":3},{"p":"C1","x":11,"y":6,"v":1},{"p":"C1","x":14,"y":6,"v":1},{"p":"C1","x":15,"y":6,"v":1},{"p":"C1","x":16,"y":6,"v":2},{"p":"C1","x":17,"y":6,"v":5},{"p":"C1","x":18,"y":6,"v":4},{"p":"C1","x":19,"y":6,"v":2},{"p":"C1","x":20,"y":6,"v":2},{"p":"C1","x":21,"y":6,"v":1},
{"p":"C1","x":3,"y":5,"v":1},{"p":"C1","x":6,"y":5,"v":1},{"p":"C1","x":7,"y":5,"v":2},{"p":"C1","x":10,"y":5,"v":1},{"p":"C1","x":14,"y":5,"v":1},{"p":"C1","x":15,"y":5,"v":1},{"p":"C1","x":16,"y":5,"v":1},{"p":"C1","x":17,"y":5,"v":1},{"p":"C1","x":18,"y":5,"v":3},{"p":"C1","x":19,"y":5,"v":1},
{"p":"C1","x":4,"y":4,"v":1},{"p":"C1","x":5,"y":4,"v":1},{"p":"C1","x":8,"y":4,"v":1},{"p":"C1","x":9,"y":4,"v":2},{"p":"C1","x":10,"y":4,"v":1},{"p":"C1","x":11,"y":4,"v":1},{"p":"C1","x":16,"y":4,"v":2},{"p":"C1","x":17,"y":4,"v":1},{"p":"C1","x":18,"y":4,"v":2},{"p":"C1","x":19,"y":4,"v":1},{"p":"C1","x":20,"y":4,"v":2},{"p":"C1","x":21,"y":4,"v":1},
{"p":"C1","x":5,"y":3,"v":1},{"p":"C1","x":6,"y":3,"v":1},{"p":"C1","x":7,"y":3,"v":1},{"p":"C1","x":11,"y":3,"v":2},{"p":"C1","x":15,"y":3,"v":2},{"p":"C1","x":21,"y":3,"v":1},
{"p":"C2","x":16,"y":17,"v":1},{"p":"C2","x":18,"y":17,"v":1},
{"p":"C2","x":11,"y":16,"v":1},{"p":"C2","x":12,"y":16,"v":1},{"p":"C2","x":13,"y":16,"v":1},{"p":"C2","x":14,"y":16,"v":2},{"p":"C2","x":15,"y":16,"v":1},{"p":"C2","x":16,"y":16,"v":1},{"p":"C2","x":17,"y":16,"v":1},{"p":"C2","x":18,"y":16,"v":1},{"p":"C2","x":20,"y":16,"v":1},
{"p":"C2","x":4,"y":15,"v":2},{"p":"C2","x":9,"y":15,"v":1},{"p":"C2","x":19,"y":15,"v":2},{"p":"C2","x":20,"y":15,"v":2},{"p":"C2","x":21,"y":15,"v":1},
{"p":"C2","x":5,"y":14,"v":2},{"p":"C2","x":9,"y":14,"v":1},{"p":"C2","x":10,"y":14,"v":1},{"p":"C2","x":11,"y":14,"v":1},{"p":"C2","x":13,"y":14,"v":1},{"p":"C2","x":14,"y":14,"v":1},{"p":"C2","x":15,"y":14,"v":1},{"p":"C2","x":20,"y":14,"v":1},
{"p":"C2","x":5,"y":13,"v":1},{"p":"C2","x":9,"y":13,"v":1},{"p":"C2","x":10,"y":13,"v":2},{"p":"C2","x":11,"y":13,"v":2},{"p":"C2","x":12,"y":13,"v":2},{"p":"C2","x":16,"y":13,"v":1},{"p":"C2","x":17,"y":13,"v":1},{"p":"C2","x":21,"y":13,"v":1},
{"p":"C2","x":9,"y":12,"v":1},{"p":"C2","x":10,"y":12,"v":1},{"p":"C2","x":11,"y":12,"v":1},{"p":"C2","x":14,"y":12,"v":1},{"p":"C2","x":16,"y":12,"v":1},{"p":"C2","x":17,"y":12,"v":2},{"p":"C2","x":18,"y":12,"v":1},
{"p":"C2","x":9,"y":11,"v":1},{"p":"C2","x":12,"y":11,"v":1},{"p":"C2","x":13,"y":11,"v":1},{"p":"C2","x":19,"y":11,"v":3},{"p":"C2","x":20,"y":11,"v":2},{"p":"C2","x":21,"y":11,"v":3},
{"p":"C2","x":12,"y":10,"v":1},{"p":"C2","x":13,"y":10,"v":1},{"p":"C2","x":18,"y":10,"v":1},{"p":"C2","x":20,"y":10,"v":3},{"p":"C2","x":21,"y":10,"v":1},
{"p":"C2","x":13,"y":9,"v":2},{"p":"C2","x":17,"y":9,"v":2},{"p":"C2","x":18,"y":9,"v":1},{"p":"C2","x":19,"y":9,"v":4},{"p":"C2","x":20,"y":9,"v":5},{"p":"C2","x":21,"y":9,"v":1},
{"p":"C2","x":9,"y":8,"v":1},{"p":"C2","x":10,"y":8,"v":1},{"p":"C2","x":12,"y":8,"v":2},{"p":"C2","x":13,"y":8,"v":1},{"p":"C2","x":14,"y":8,"v":1},{"p":"C2","x":16,"y":8,"v":1},{"p":"C2","x":19,"y":8,"v":1},{"p":"C2","x":21,"y":8,"v":1},
{"p":"C2","x":9,"y":7,"v":1},{"p":"C2","x":10,"y":7,"v":2},{"p":"C2","x":11,"y":7,"v":3},{"p":"C2","x":12,"y":7,"v":3},{"p":"C2","x":15,"y":7,"v":1},{"p":"C2","x":16,"y":7,"v":1},{"p":"C2","x":18,"y":7,"v":1},{"p":"C2","x":19,"y":7,"v":1},{"p":"C2","x":20,"y":7,"v":1},{"p":"C2","x":21,"y":7,"v":2},
{"p":"C2","x":4,"y":6,"v":1},{"p":"C2","x":5,"y":6,"v":1},{"p":"C2","x":9,"y":6,"v":1},{"p":"C2","x":11,"y":6,"v":5},{"p":"C2","x":12,"y":6,"v":5},{"p":"C2","x":13,"y":6,"v":1},{"p":"C2","x":14,"y":6,"v":2},{"p":"C2","x":18,"y":6,"v":2},{"p":"C2","x":19,"y":6,"v":6},{"p":"C2","x":20,"y":6,"v":6},{"p":"C2","x":21,"y":6,"v":4},
{"p":"C2","x":9,"y":5,"v":1},{"p":"C2","x":11,"y":5,"v":5},{"p":"C2","x":12,"y":5,"v":3},{"p":"C2","x":13,"y":5,"v":3},{"p":"C2","x":14,"y":5,"v":1},{"p":"C2","x":16,"y":5,"v":1},{"p":"C2","x":17,"y":5,"v":2},{"p":"C2","x":18,"y":5,"v":1},{"p":"C2","x":19,"y":5,"v":2},{"p":"C2","x":20,"y":5,"v":3},{"p":"C2","x":21,"y":5,"v":1},
{"p":"C2","x":3,"y":4,"v":1},{"p":"C2","x":9,"y":4,"v":1},{"p":"C2","x":10,"y":4,"v":3},{"p":"C2","x":11,"y":4,"v":2},{"p":"C2","x":12,"y":4,"v":1},{"p":"C2","x":13,"y":4,"v":4},{"p":"C2","x":14,"y":4,"v":1},{"p":"C2","x":15,"y":4,"v":2},
{"p":"C2","x":3,"y":3,"v":3},{"p":"C2","x":4,"y":3,"v":1},{"p":"C2","x":9,"y":3,"v":1},{"p":"C2","x":10,"y":3,"v":1},{"p":"C2","x":11,"y":3,"v":5},{"p":"C2","x":12,"y":3,"v":1},{"p":"C2","x":13,"y":3,"v":3},{"p":"C2","x":14,"y":3,"v":1},{"p":"C2","x":16,"y":3,"v":1},
{"p":"C2","x":6,"y":2,"v":1},{"p":"C2","x":16,"y":2,"v":1}
]
},
"hconcat": [
{
"width": 437, "height": 331,
"title": {"text": "A", "anchor": "start", "frame": "group", "dx": -56, "offset": -26, "font": "Liberation Serif", "fontSize": 28, "fontWeight": "normal", "baseline": "alphabetic", "color": "black"},
"view": {"stroke": "#444", "strokeWidth": 1.2},
"data": {"name": "lines"},
"resolve": {"axis": {"x": "independent", "y": "independent"}},
"layer": [
{"mark": {"type": "line", "interpolate": "step-after", "strokeWidth": 1.8},
"encoding": {
"x": {"field": "x", "type": "quantitative", "scale": {"domain": [0, 2500], "nice": false},
"axis": {"orient": "bottom", "values": [0, 500, 1000, 1500, 2000, 2500], "format": "d", "title": "# actions", "titleFont": "Liberation Serif", "titleFontSize": 17.5, "titleFontWeight": "normal", "titleColor": "black", "titlePadding": -2, "labelFont": "DejaVu Sans", "labelFontSize": 8, "labelColor": "#333", "tickSize": -4, "tickColor": "#444", "labelPadding": 8, "labelOverlap": false}},
"y": {"field": "y", "type": "quantitative", "scale": {"domain": [0, 0.9], "nice": false},
"axis": {"orient": "left", "values": [0, 0.1, 0.2, 0.3, 0.4, 0.5, 0.6, 0.7, 0.8, 0.9], "format": ".1f", "title": "selection rate", "titleFont": "Liberation Serif", "titleFontSize": 17.5, "titleFontWeight": "normal", "titleColor": "black", "titlePadding": 9, "labelFont": "DejaVu Sans", "labelFontSize": 8, "labelColor": "#333", "tickSize": -4, "tickColor": "#444", "labelPadding": 8, "labelOverlap": false}},
"stroke": {"field": "s", "type": "nominal", "scale": {"domain": ["exploration", "planning", "taxon"], "range": ["#bfbf00", "#ff0000", "#008000"]},
"legend": {"orient": "top-right", "offset": 1, "title": null, "padding": 1, "symbolOffset": 10, "strokeColor": "black", "fillColor": "white", "cornerRadius": 0, "labelFont": "Liberation Serif", "labelFontSize": 13.5, "labelColor": "black", "symbolType": "M-1.6,0H1.1", "symbolStrokeWidth": 2.5, "symbolSize": 256, "labelOffset": 7, "rowPadding": 0}}
}},
{"mark": {"type": "point", "opacity": 0, "size": 1},
"encoding": {
"x": {"field": "x", "type": "quantitative", "axis": {"orient": "top", "values": [0, 500, 1000, 1500, 2000, 2500], "labels": false, "title": null, "tickSize": -4, "tickColor": "#444"}},
"y": {"field": "y", "type": "quantitative", "axis": {"orient": "right", "values": [0, 0.1, 0.2, 0.3, 0.4, 0.5, 0.6, 0.7, 0.8, 0.9], "labels": false, "title": null, "tickSize": -4, "tickColor": "#444"}}
}}
]
},
{
"vconcat": [
{"hconcat": [
{"width": 152, "height": 152,
"title": {"text": "B", "anchor": "start", "frame": "group", "dx": -39, "offset": -17, "font": "Liberation Serif", "fontSize": 24, "fontWeight": "normal", "baseline": "alphabetic", "color": "black"},
"view": {"stroke": "#1a1a1a", "strokeWidth": 2},
"resolve": {"axis": {"x": "independent", "y": "independent"}},
"layer": [
{"data": {"name": "grids"}, "transform": [{"filter": "datum.p === 'B1'"}], "mark": {"type": "rect"},
"encoding": {
"x": {"field": "x0", "type": "quantitative", "scale": {"domain": [0, 22], "nice": false}, "axis": {"orient": "bottom", "values": [0, 5, 10, 15, 20], "title": null, "labelFontSize": 8, "labelColor": "#333", "tickSize": -4, "tickColor": "#222", "labelPadding": 10, "labelOverlap": false}},
"x2": {"field": "x1"},
"y": {"field": "y0", "type": "quantitative", "scale": {"domain": [0, 22], "nice": false}, "axis": {"orient": "left", "values": [0, 5, 10, 15, 20], "title": "Taxon", "titleFont": "Liberation Sans", "titleFontSize": 12, "titleFontWeight": "normal", "titleColor": "black", "titlePadding": 3, "labelFontSize": 8, "labelColor": "#333", "tickSize": -4, "tickColor": "#222", "labelPadding": 9, "labelOverlap": false}},
"y2": {"field": "y1"},
"fill": {"field": "v", "type": "quantitative", "scale": {"type": "linear", "domain": [0, 1, 2, 3, 4, 5, 6], "range": ["#0000ff", "#0c80d0", "#00dc8c", "#80fc2c", "#ffd500", "#ff8000", "#ff0000"], "interpolate": "rgb"},
"legend": {"orient": "none", "legendX": 351, "legendY": 96, "direction": "vertical", "gradientLength": 153, "gradientThickness": 9, "values": [0, 1, 2, 3, 4, 5, 6], "title": "visits", "titleOrient": "right", "titleAngle": 270, "titleFont": "Liberation Sans", "titleFontSize": 8, "titleFontWeight": "normal", "titleColor": "#333", "titleAnchor": "middle", "titleBaseline": "middle", "titlePadding": 6, "labelFontSize": 8, "labelColor": "#333", "labelOffset": 4, "gradientStrokeColor": "black", "gradientStrokeWidth": 1, "padding": 0}}
}},
{"data": {"name": "cells"}, "transform": [{"filter": "datum.p === 'B1'"}], "mark": {"type": "square", "size": 49, "filled": true, "opacity": 1, "strokeWidth": 0},
"encoding": {"x": {"field": "x", "type": "quantitative", "axis": null}, "y": {"field": "y", "type": "quantitative", "axis": null}, "fill": {"field": "v", "type": "quantitative"}}},
{"data": {"name": "tlabels"}, "transform": [{"filter": "datum.p === 'B1'"}], "mark": {"type": "text", "align": "left", "baseline": "middle", "font": "Liberation Sans", "fontSize": 7.5, "fill": "#222"},
"encoding": {"x": {"field": "x", "type": "quantitative", "axis": {"orient": "top", "values": [0, 5, 10, 15, 20], "labels": false, "title": null, "tickSize": -4, "tickColor": "#222"}}, "y": {"field": "y", "type": "quantitative", "axis": {"orient": "right", "values": [0, 5, 10, 15, 20], "labels": false, "title": null, "tickSize": -4, "tickColor": "#222"}}, "text": {"field": "label"}}}
]},
{"width": 152, "height": 152,
"view": {"stroke": "#1a1a1a", "strokeWidth": 2},
"resolve": {"axis": {"x": "independent", "y": "independent"}},
"layer": [
{"data": {"name": "grids"}, "transform": [{"filter": "datum.p === 'B2'"}], "mark": {"type": "rect"},
"encoding": {
"x": {"field": "x0", "type": "quantitative", "scale": {"domain": [0, 22], "nice": false}, "axis": {"orient": "bottom", "values": [0, 5, 10, 15, 20], "title": null, "labelFontSize": 8, "labelColor": "#333", "tickSize": -4, "tickColor": "#222", "labelPadding": 10, "labelOverlap": false}},
"x2": {"field": "x1"},
"y": {"field": "y0", "type": "quantitative", "scale": {"domain": [0, 22], "nice": false}, "axis": {"orient": "left", "values": [0, 5, 10, 15, 20], "title": null, "labelFontSize": 8, "labelColor": "#333", "tickSize": -4, "tickColor": "#222", "labelPadding": 9, "labelOverlap": false}},
"y2": {"field": "y1"},
"fill": {"field": "v", "type": "quantitative"}
}},
{"data": {"name": "cells"}, "transform": [{"filter": "datum.p === 'B2'"}], "mark": {"type": "square", "size": 49, "filled": true, "opacity": 1, "strokeWidth": 0},
"encoding": {"x": {"field": "x", "type": "quantitative", "axis": null}, "y": {"field": "y", "type": "quantitative", "axis": null}, "fill": {"field": "v", "type": "quantitative"}}},
{"data": {"name": "tlabels"}, "transform": [{"filter": "datum.p === 'B2'"}], "mark": {"type": "text", "align": "left", "baseline": "middle", "font": "Liberation Sans", "fontSize": 7.5, "fill": "#222"},
"encoding": {"x": {"field": "x", "type": "quantitative", "axis": {"orient": "top", "values": [0, 5, 10, 15, 20], "labels": false, "title": null, "tickSize": -4, "tickColor": "#222"}}, "y": {"field": "y", "type": "quantitative", "axis": {"orient": "right", "values": [0, 5, 10, 15, 20], "labels": false, "title": null, "tickSize": -4, "tickColor": "#222"}}, "text": {"field": "label"}}}
]}
], "spacing": 16},
{"hconcat": [
{"width": 152, "height": 152,
"title": {"text": "C", "anchor": "start", "frame": "group", "dx": -39, "offset": -30, "font": "Liberation Serif", "fontSize": 24, "fontWeight": "normal", "baseline": "alphabetic", "color": "black"},
"view": {"stroke": "#1a1a1a", "strokeWidth": 2},
"resolve": {"axis": {"x": "independent", "y": "independent"}},
"layer": [
{"data": {"name": "grids"}, "transform": [{"filter": "datum.p === 'C1'"}], "mark": {"type": "rect"},
"encoding": {
"x": {"field": "x0", "type": "quantitative", "scale": {"domain": [0, 22], "nice": false}, "axis": {"orient": "bottom", "values": [0, 5, 10, 15, 20], "title": null, "labelFontSize": 8, "labelColor": "#333", "tickSize": -4, "tickColor": "#222", "labelPadding": 10, "labelOverlap": false}},
"x2": {"field": "x1"},
"y": {"field": "y0", "type": "quantitative", "scale": {"domain": [0, 22], "nice": false}, "axis": {"orient": "left", "values": [0, 5, 10, 15, 20], "title": "Planning", "titleFont": "Liberation Sans", "titleFontSize": 12, "titleFontWeight": "normal", "titleColor": "black", "titlePadding": 3, "labelFontSize": 8, "labelColor": "#333", "tickSize": -4, "tickColor": "#222", "labelPadding": 9, "labelOverlap": false}},
"y2": {"field": "y1"},
"fill": {"field": "v", "type": "quantitative"}
}},
{"data": {"name": "cells"}, "transform": [{"filter": "datum.p === 'C1'"}], "mark": {"type": "square", "size": 49, "filled": true, "opacity": 1, "strokeWidth": 0},
"encoding": {"x": {"field": "x", "type": "quantitative", "axis": null}, "y": {"field": "y", "type": "quantitative", "axis": null}, "fill": {"field": "v", "type": "quantitative"}}},
{"data": {"name": "tlabels"}, "transform": [{"filter": "datum.p === 'C1'"}], "mark": {"type": "text", "align": "left", "baseline": "middle", "font": "Liberation Sans", "fontSize": 7.5, "fill": "#222"},
"encoding": {"x": {"field": "x", "type": "quantitative", "axis": {"orient": "top", "values": [0, 5, 10, 15, 20], "labels": false, "title": null, "tickSize": -4, "tickColor": "#222"}}, "y": {"field": "y", "type": "quantitative", "axis": {"orient": "right", "values": [0, 5, 10, 15, 20], "labels": false, "title": null, "tickSize": -4, "tickColor": "#222"}}, "text": {"field": "label"}}}
]},
{"width": 152, "height": 152,
"view": {"stroke": "#1a1a1a", "strokeWidth": 2},
"resolve": {"axis": {"x": "independent", "y": "independent"}},
"layer": [
{"data": {"name": "grids"}, "transform": [{"filter": "datum.p === 'C2'"}], "mark": {"type": "rect"},
"encoding": {
"x": {"field": "x0", "type": "quantitative", "scale": {"domain": [0, 22], "nice": false}, "axis": {"orient": "bottom", "values": [0, 5, 10, 15, 20], "title": null, "labelFontSize": 8, "labelColor": "#333", "tickSize": -4, "tickColor": "#222", "labelPadding": 10, "labelOverlap": false}},
"x2": {"field": "x1"},
"y": {"field": "y0", "type": "quantitative", "scale": {"domain": [0, 22], "nice": false}, "axis": {"orient": "left", "values": [0, 5, 10, 15, 20], "title": null, "labelFontSize": 8, "labelColor": "#333", "tickSize": -4, "tickColor": "#222", "labelPadding": 9, "labelOverlap": false}},
"y2": {"field": "y1"},
"fill": {"field": "v", "type": "quantitative"}
}},
{"data": {"name": "cells"}, "transform": [{"filter": "datum.p === 'C2'"}], "mark": {"type": "square", "size": 49, "filled": true, "opacity": 1, "strokeWidth": 0},
"encoding": {"x": {"field": "x", "type": "quantitative", "axis": null}, "y": {"field": "y", "type": "quantitative", "axis": null}, "fill": {"field": "v", "type": "quantitative"}}},
{"data": {"name": "tlabels"}, "transform": [{"filter": "datum.p === 'C2'"}], "mark": {"type": "text", "align": "left", "baseline": "middle", "font": "Liberation Sans", "fontSize": 7.5, "fill": "#222"},
"encoding": {"x": {"field": "x", "type": "quantitative", "axis": {"orient": "top", "values": [0, 5, 10, 15, 20], "labels": false, "title": null, "tickSize": -4, "tickColor": "#222"}}, "y": {"field": "y", "type": "quantitative", "axis": {"orient": "right", "values": [0, 5, 10, 15, 20], "labels": false, "title": null, "tickSize": -4, "tickColor": "#222"}}, "text": {"field": "label"}}}
]}
], "spacing": 16}
],
"spacing": -3
}
],
"spacing": -1,
"resolve": {"scale": {"stroke": "independent", "fill": "independent"}, "legend": {"stroke": "independent", "fill": "independent"}}
}
